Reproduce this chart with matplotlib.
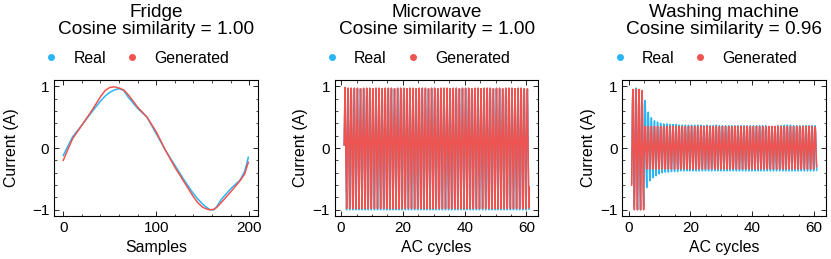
import matplotlib.pyplot as plt
import matplotlib.ticker as mticker
import numpy as np
from matplotlib.lines import Line2D

plt.rcParams.update({
    "font.family": ["Liberation Sans", "DejaVu Sans"],
    "font.size": 11.4,
    "xtick.labelsize": 11,
    "ytick.labelsize": 11,
    "xtick.direction": "in",
    "ytick.direction": "in",
    "xtick.top": True,
    "ytick.right": True,
    "xtick.minor.visible": True,
    "ytick.minor.visible": True,
    "xtick.major.size": 3.5,
    "ytick.major.size": 3.5,
    "xtick.minor.size": 1.8,
    "ytick.minor.size": 1.8,
    "xtick.major.width": 0.6,
    "ytick.major.width": 0.6,
    "xtick.minor.width": 0.5,
    "ytick.minor.width": 0.5,
    "axes.linewidth": 0.8,
})

REAL_COLOR = "#29B6F6"
GEN_COLOR = "#EF5350"

# Fridge: one AC cycle, sample index vs current (read at a few samples)
fridge_samples = [0, 5, 10, 20, 30, 40, 45, 50, 55, 60, 65, 70, 80, 90, 100, 110, 120,
                  130, 140, 145, 150, 155, 158, 162, 165, 170, 180, 190, 195, 199]
fridge_real = [-0.12, 0.03, 0.18, 0.37, 0.57, 0.76, 0.84, 0.90, 0.94, 0.96, 0.93,
               0.82, 0.64, 0.50, 0.23, -0.04, -0.28, -0.52, -0.74, -0.83, -0.91,
               -0.97, -1.00, -1.00, -0.95, -0.83, -0.66, -0.52, -0.38, -0.15]
fridge_gen = [-0.20, -0.02, 0.15, 0.37, 0.59, 0.83, 0.93, 0.98, 0.99, 0.97, 0.94,
              0.86, 0.66, 0.50, 0.26, -0.04, -0.31, -0.55, -0.79, -0.89, -0.96,
              -0.99, -1.00, -0.99, -0.96, -0.88, -0.71, -0.53, -0.42, -0.23]

# One normalised cycle shape per appliance (positive part scaled by the peak,
# negative part by the trough of each cycle)
microwave_shape = [0.05, 0.45, 0.72, 1.00, 0.70, 0.15, -0.35, -0.66, -1.00, -0.65]
washer_shape = [-0.60, 0.10, 0.75, 1.00, 0.70, 0.00, -0.70, -1.00]

# Per-cycle peaks / troughs (60 AC cycles)
microwave_real_peak = [0.96, 0.96, 0.96, 0.96, 0.96, 0.96, 0.96, 0.96, 0.96, 0.96,
                       0.96, 0.96, 0.96, 0.96, 0.96, 0.96, 0.96, 0.96, 0.96, 0.96,
                       0.96, 0.96, 0.96, 0.96, 0.96, 0.96, 0.96, 0.96, 0.96, 0.96,
                       0.96, 0.96, 0.96, 0.96, 0.96, 0.96, 0.96, 0.96, 0.96, 0.96,
                       0.96, 0.96, 0.96, 0.96, 0.96, 0.96, 0.96, 0.96, 0.96, 0.96,
                       0.96, 0.96, 0.96, 0.96, 0.96, 0.96, 0.96, 0.96, 0.96, 0.95]
microwave_real_trough = [-1.00, -1.00, -1.00, -1.00, -1.00, -1.00, -1.00, -1.00, -1.00, -1.00,
                         -1.00, -1.00, -1.00, -1.00, -1.00, -1.00, -1.00, -1.00, -1.00, -1.00,
                         -1.00, -1.00, -1.00, -1.00, -1.00, -1.00, -1.00, -1.00, -1.00, -1.00,
                         -1.00, -1.00, -1.00, -1.00, -1.00, -1.00, -1.00, -1.00, -1.00, -1.00,
                         -1.00, -1.00, -1.00, -1.00, -1.00, -1.00, -1.00, -1.00, -1.00, -1.00,
                         -1.00, -1.00, -1.00, -1.00, -1.00, -1.00, -1.00, -1.00, -1.00, -0.99]
microwave_gen_peak = [0.98, 0.97, 0.97, 0.97, 0.97, 0.96, 0.97, 0.97, 0.97, 0.96,
                      0.97, 0.97, 0.96, 0.97, 0.97, 0.97, 0.96, 0.97, 0.97, 0.97,
                      0.96, 0.97, 0.97, 0.96, 0.97, 0.97, 0.97, 0.96, 0.97, 0.97,
                      0.96, 0.97, 0.97, 0.97, 0.96, 0.97, 0.97, 0.96, 0.97, 0.97,
                      0.97, 0.96, 0.97, 0.97, 0.96, 0.97, 0.97, 0.97, 0.96, 0.97,
                      0.97, 0.96, 0.97, 0.97, 0.97, 0.96, 0.97, 0.97, 0.96, 0.96]
microwave_gen_trough = [-0.98, -0.98, -0.98, -0.98, -0.98, -0.98, -0.98, -0.98, -0.98, -0.98,
                        -0.98, -0.98, -0.98, -0.98, -0.98, -0.98, -0.98, -0.98, -0.98, -0.98,
                        -0.98, -0.98, -0.98, -0.98, -0.98, -0.98, -0.98, -0.98, -0.98, -0.98,
                        -0.98, -0.98, -0.98, -0.98, -0.98, -0.98, -0.98, -0.98, -0.98, -0.98,
                        -0.98, -0.98, -0.98, -0.98, -0.98, -0.98, -0.98, -0.98, -0.98, -0.98,
                        -0.98, -0.98, -0.98, -0.98, -0.98, -0.98, -0.98, -0.98, -0.98, -0.97]

washer_real_peak = [0.92, 0.97, 0.94, 0.90, 0.77, 0.58, 0.49, 0.44, 0.42, 0.40,
                    0.39, 0.39, 0.38, 0.38, 0.38, 0.37, 0.37, 0.37, 0.37, 0.37,
                    0.37, 0.37, 0.37, 0.36, 0.37, 0.36, 0.36, 0.37, 0.36, 0.36,
                    0.36, 0.36, 0.36, 0.36, 0.36, 0.36, 0.36, 0.36, 0.36, 0.36,
                    0.36, 0.36, 0.36, 0.36, 0.35, 0.35, 0.35, 0.36, 0.36, 0.37,
                    0.37, 0.37, 0.36, 0.36, 0.36, 0.36, 0.36, 0.36, 0.36, 0.36]
washer_real_trough = [-0.95, -1.00, -1.00, -0.95, -0.64, -0.53, -0.48, -0.45, -0.42, -0.40,
                      -0.39, -0.39, -0.38, -0.38, -0.38, -0.37, -0.37, -0.37, -0.37, -0.37,
                      -0.37, -0.37, -0.37, -0.37, -0.37, -0.37, -0.37, -0.37, -0.37, -0.37,
                      -0.37, -0.37, -0.37, -0.37, -0.37, -0.37, -0.37, -0.37, -0.37, -0.37,
                      -0.37, -0.37, -0.37, -0.37, -0.37, -0.37, -0.37, -0.37, -0.37, -0.37,
                      -0.37, -0.37, -0.37, -0.37, -0.37, -0.37, -0.37, -0.37, -0.37, -0.36]
washer_gen_peak = [0.95, 0.95, 0.95, 0.93, 0.35, 0.35, 0.35, 0.35, 0.35, 0.35,
                   0.35, 0.35, 0.35, 0.35, 0.35, 0.35, 0.35, 0.35, 0.35, 0.35,
                   0.35, 0.35, 0.35, 0.35, 0.35, 0.35, 0.35, 0.35, 0.35, 0.35,
                   0.35, 0.35, 0.35, 0.35, 0.35, 0.35, 0.35, 0.35, 0.35, 0.35,
                   0.35, 0.35, 0.35, 0.35, 0.35, 0.35, 0.35, 0.35, 0.35, 0.35,
                   0.35, 0.35, 0.35, 0.35, 0.35, 0.35, 0.35, 0.35, 0.35, 0.34]
washer_gen_trough = [-1.00, -1.00, -1.00, -1.00, -0.34, -0.34, -0.34, -0.34, -0.34, -0.34,
                     -0.34, -0.34, -0.34, -0.34, -0.34, -0.34, -0.34, -0.34, -0.34, -0.34,
                     -0.34, -0.34, -0.34, -0.34, -0.34, -0.34, -0.34, -0.34, -0.34, -0.34,
                     -0.34, -0.34, -0.34, -0.34, -0.34, -0.34, -0.34, -0.34, -0.34, -0.34,
                     -0.34, -0.34, -0.34, -0.34, -0.34, -0.34, -0.34, -0.34, -0.34, -0.34,
                     -0.34, -0.34, -0.34, -0.34, -0.34, -0.34, -0.34, -0.34, -0.34, -0.30]

titles = ["Fridge", "Microwave", "Washing machine"]
cos_sim = [1.00, 1.00, 0.96]
xlabels = ["Samples", "AC cycles", "AC cycles"]


def build_wave(shape, peaks, troughs):
    """Stack cycles: positive shape parts scaled by the peak, negative by the trough."""
    shape = np.asarray(shape)
    cycles = []
    for pk, tr in zip(peaks, troughs):
        cycles.append(np.where(shape >= 0, shape * pk, -shape * tr))
    y = np.concatenate(cycles)
    x = 1 + np.arange(len(y)) / len(shape)
    return x, y


series = [
    (np.array(fridge_samples), np.array(fridge_real),
     np.array(fridge_samples), np.array(fridge_gen)),
    (*build_wave(microwave_shape, microwave_real_peak, microwave_real_trough),
     *build_wave(microwave_shape, microwave_gen_peak, microwave_gen_trough)),
    (*build_wave(washer_shape, washer_real_peak, washer_real_trough),
     *build_wave(washer_shape, washer_gen_peak, washer_gen_trough)),
]

fig = plt.figure(figsize=(8.31, 2.59), dpi=100)
lefts = [0.065, 0.403, 0.749]
ylabel_pads = [9, 3, 3]
handles = [
    Line2D([], [], marker="o", linestyle="none", color=REAL_COLOR, markersize=4, label="Real"),
    Line2D([], [], marker="o", linestyle="none", color=GEN_COLOR, markersize=4, label="Generated"),
]

for i, left in enumerate(lefts):
    ax = fig.add_axes([left, 0.166, 0.245, 0.525])
    xr, yr, xg, yg = series[i]
    ax.plot(xr, yr, color=REAL_COLOR, linewidth=1.1)
    ax.plot(xg, yg, color=GEN_COLOR, linewidth=1.1)
    ax.set_ylim(-1.1, 1.1)
    ax.set_yticks([-1, 0, 1])
    ax.xaxis.set_minor_locator(mticker.AutoMinorLocator())
    ax.yaxis.set_minor_locator(mticker.AutoMinorLocator())
    ax.set_xlabel(xlabels[i], labelpad=3.5)
    ax.set_ylabel("Current (A)", labelpad=ylabel_pads[i])
    ax.set_title(f"{titles[i]}\nCosine similarity = {cos_sim[i]:.2f}", pad=33, linespacing=1.05)
    ax.legend(handles=handles, loc="lower right", bbox_to_anchor=(0.93, 1.0), ncol=2,
              frameon=False, handlelength=1.0, handletextpad=0.9, columnspacing=1.15,
              borderaxespad=0.5)

fig.savefig("out.png", dpi=100)
